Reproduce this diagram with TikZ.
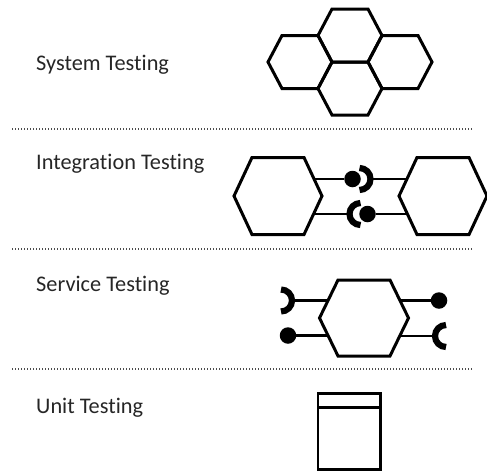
\documentclass[tikz,border=0pt]{standalone}
\usepackage{fontspec}
\setmainfont{Carlito}[Ligatures={NoCommon}]
\usetikzlibrary{calc}
\tikzset{
  hexline/.style={draw=black, line width=3pt, line join=miter, fill=white},
  wire/.style={draw=black, line width=2.8pt},
  ball/.style={circle, fill=black, draw=none, inner sep=0pt, minimum size=16.5pt},
  socket/.style={draw=black, line width=6.2pt},
  sep/.style={draw=black!70, line width=1.4pt, dash pattern=on 1.4pt off 1.6pt},
  label/.style={anchor=base west, inner sep=0pt, text=black!85, font=\fontsize{22.3}{26}\selectfont},
  unitbox/.style={draw=black, line width=2.9pt, fill=white}
}
% hexagon: centre x, centre y, half width a, half top edge b, half height h
\newcommand\hexshape[6][]{%
  \path[hexline,#1] ({#2-#4},{#3}) -- ({#2-#5},{#3-#6}) -- ({#2+#5},{#3-#6}) -- ({#2+#4},{#3})
    -- ({#2+#5},{#3+#6}) -- ({#2-#5},{#3+#6}) -- cycle;}
\begin{document}
\begin{tikzpicture}[x=1pt,y=-1pt]
\useasboundingbox (0,0) rectangle (487,472);

% labels
\node[label] (tsys) at (36,70) {System Testing};
\node[label] (tint) at (36,169.3) {Integration Testing};
\node[label] (tsvc) at (36,291.7) {Service Testing};
\node[label] (tunit) at (36,413.3) {Unit Testing};

% separators
\coordinate (sepA1) at (12,129); \coordinate (sepA2) at (473,129);
\coordinate (sepB1) at (12,249); \coordinate (sepB2) at (473,249);
\coordinate (sepC1) at (12,369); \coordinate (sepC2) at (473,369);
\draw[sep] (sepA1) -- (sepA2);
\draw[sep] (sepB1) -- (sepB2);
\draw[sep] (sepC1) -- (sepC2);

% system testing: honeycomb
\hexshape[fill=none]{350}{35.5}{32}{18}{26.5}
\hexshape[fill=none]{300}{62}{32}{18}{26.5}
\hexshape[fill=none]{400}{62}{32}{18}{26.5}
\hexshape[fill=none]{350}{88.5}{32}{18}{26.5}

% integration testing
\coordinate (iL) at (278,196);
\coordinate (iR) at (443,196);
\node[ball] (ib1) at (352.5,179) {};
\coordinate (is1) at (359.5,179);
\coordinate (is2) at (360.5,214);
\node[ball] (ib2) at (367.5,214) {};
\draw[wire] (iL |- ib1) -- (ib1);
\draw[wire] ($(is1)+(11,0)$) -- (iR |- is1);
\draw[socket] ($(is1)+(0,-11)$) arc[start angle=90, end angle=-90, radius=11pt];
\draw[wire] (iL |- is2) -- ($(is2)+(-11,0)$);
\draw[socket] ($(is2)+(0,-11)$) arc[start angle=90, end angle=270, radius=11pt];
\draw[wire] (ib2) -- (iR |- ib2);
\hexshape{278}{196}{44}{26}{38.5}
\hexshape{443}{196}{44}{26}{38.5}

% service testing
\coordinate (sH) at (364,318);
\coordinate (ss1) at (281,300.5);
\node[ball] (sb1) at (288,335.5) {};
\node[ball] (sb2) at (439,300.5) {};
\coordinate (ss2) at (446,336);
\draw[wire] ($(ss1)+(11,0)$) -- (sH |- ss1);
\draw[socket] ($(ss1)+(0,-11)$) arc[start angle=90, end angle=-90, radius=11pt];
\draw[wire] (sb1) -- (sH |- sb1);
\draw[wire] (sH |- sb2) -- (sb2);
\draw[wire] (sH |- ss2) -- ($(ss2)+(-11,0)$);
\draw[socket] ($(ss2)+(0,-11)$) arc[start angle=90, end angle=270, radius=11pt];
\hexshape{364}{318}{44.5}{26}{38}

% unit testing
\draw[unitbox] (318,393.5) rectangle (380.5,469.5);
\draw[unitbox] (318,407.3) -- (380.5,407.3);
\end{tikzpicture}
\end{document}
